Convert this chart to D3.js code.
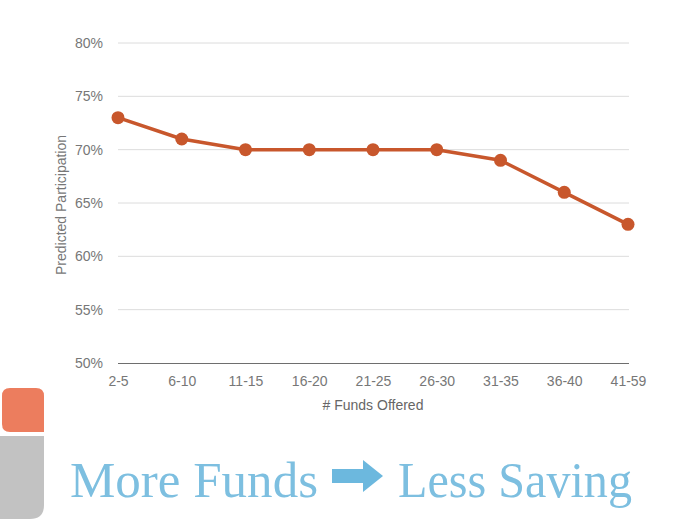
<!DOCTYPE html>
<html>
<head>
<meta charset="utf-8">
<script src="https://cdn.jsdelivr.net/npm/d3@7"></script>
<style>
  html, body { margin: 0; padding: 0; background: #fff; }
  svg { display: block; }
</style>
</head>
<body>
<svg id="chart" width="700" height="525"></svg>
<script>
const categories = ["2-5", "6-10", "11-15", "16-20", "21-25", "26-30", "31-35", "36-40", "41-59"];
const participation = [73, 71, 70, 70, 70, 70, 69, 66, 63];
const yTicks = [50, 55, 60, 65, 70, 75, 80];
const xTitle = "# Funds Offered";
const yTitle = "Predicted Participation";
const titleLeft = "More Funds";
const titleRight = "Less Saving";

(function () {
const svg = d3.select("#chart");
const pLeft = 118, pRight = 628, pTop = 43, pBottom = 363;

const x = d3.scalePoint().domain(categories).range([pLeft, pRight]);
const y = d3.scaleLinear().domain([50, 80]).range([pBottom, pTop]);

// gridlines
svg.append("g").selectAll("line").data(yTicks.filter(d => d > 50)).join("line")
  .attr("x1", pLeft).attr("x2", pRight + 1)
  .attr("y1", d => y(d)).attr("y2", d => y(d))
  .attr("stroke", "#dcdcdc").attr("stroke-width", 1);

const sans = "Helvetica, 'Liberation Sans', Arial, sans-serif";

// y axis labels
const yAxis = d3.axisLeft(y).tickValues(yTicks).tickFormat(d => d + "%").tickSize(0).tickPadding(15);
const gy = svg.append("g").attr("transform", `translate(${pLeft},0)`).call(yAxis);
gy.select(".domain").remove();
gy.selectAll("text").attr("fill", "#777").style("font-family", sans).style("font-size", "14px");

// x axis
const xAxis = d3.axisBottom(x).tickSize(0).tickPadding(13);
const gx = svg.append("g").attr("transform", `translate(0,${pBottom})`).call(xAxis);
gx.select(".domain").attr("stroke", "#6e6e6e").attr("stroke-width", 1).attr("d", `M${pLeft},0.5H${pRight + 1}`);
gx.selectAll("text").attr("fill", "#777").style("font-family", sans).style("font-size", "14px");

// axis titles
svg.append("text").attr("x", (pLeft + pRight) / 2).attr("y", 410)
  .attr("text-anchor", "middle").attr("fill", "#666")
  .style("font-family", sans).style("font-size", "14px")
  .text(xTitle);
svg.append("text").attr("transform", `translate(66,${(pTop + pBottom) / 2 + 2}) rotate(-90)`)
  .attr("text-anchor", "middle").attr("fill", "#777")
  .style("font-family", sans).style("font-size", "14px")
  .text(yTitle);

// line
const lineColor = "#c8572c";
const data = categories.map((c, i) => ({ c, v: participation[i] }));
svg.append("path").datum(data)
  .attr("fill", "none").attr("stroke", lineColor).attr("stroke-width", 3.5)
  .attr("stroke-linejoin", "round")
  .attr("d", d3.line().x(d => x(d.c)).y(d => y(d.v)));
svg.append("g").selectAll("circle").data(data).join("circle")
  .attr("cx", d => x(d.c)).attr("cy", d => y(d.v)).attr("r", 6.5)
  .attr("fill", lineColor);

// decorative blocks
svg.append("path")
  .attr("d", "M2,396 Q2,388 10,388 H36 Q44,388 44,396 V432 H10 Q2,432 2,424 Z")
  .attr("fill", "#ec7d5e");
svg.append("path")
  .attr("d", "M0,436 H44 V505 Q44,519 30,519 H0 Z")
  .attr("fill", "#c2c2c2");

// title
const titleColor = "#7dbfe0";
const titleFont = "Georgia, 'Liberation Serif', 'DejaVu Serif', serif";
svg.append("text").attr("x", 70).attr("y", 497)
  .attr("fill", titleColor).style("font-family", titleFont).style("font-size", "50px")
  .attr("textLength", 248).attr("lengthAdjust", "spacingAndGlyphs")
  .text(titleLeft);
svg.append("text").attr("x", 398).attr("y", 497)
  .attr("fill", titleColor).style("font-family", titleFont).style("font-size", "50px")
  .attr("textLength", 234).attr("lengthAdjust", "spacingAndGlyphs")
  .text(titleRight);
svg.append("path")
  .attr("d", "M332,469 H363 V460 L383,476 L363,492 V483 H332 Z")
  .attr("fill", "#6cb8de");
})();
</script>
</body>
</html>
